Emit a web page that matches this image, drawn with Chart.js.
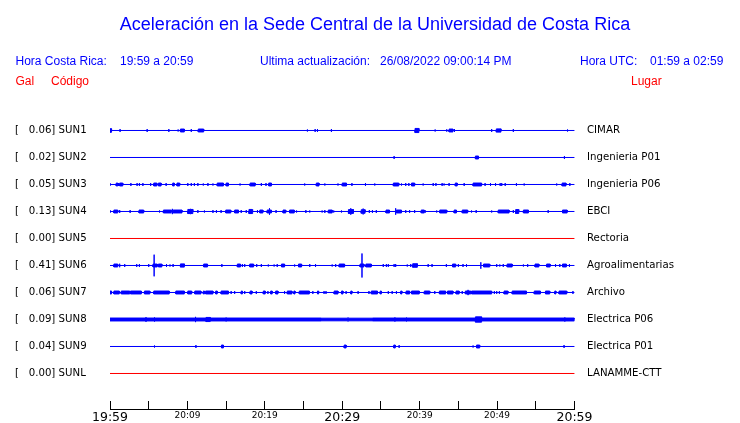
<!DOCTYPE html>
<html lang="es">
<head>
<meta charset="utf-8">
<title>Aceleración en la Sede Central de la Universidad de Costa Rica</title>
<script src="https://cdn.jsdelivr.net/npm/chart.js@4.4.1/dist/chart.umd.min.js"></script>
<style>
  body { margin: 0; background: #fff; }
  #wrap { position: relative; width: 740px; height: 423px; font-family: "Liberation Sans", Arial, sans-serif; }
  #wrap canvas { position: absolute; left: 0; top: 0; }
  .txt { position: absolute; font-size: 12px; line-height: 12px; white-space: pre; color: #0000ff; }
  .red { color: #ff0000; }
  #title { font-size: 18px; line-height: 18px; left: 375px; top: 14.5px; transform: translateX(-50%); }
</style>
</head>
<body>
<div id="wrap">
  <canvas id="chart" width="740" height="423"></canvas>
  <div class="txt" id="title">Aceleración en la Sede Central de la Universidad de Costa Rica</div>
  <div class="txt" style="left:15.5px; top:55.3px">Hora Costa Rica:</div>
  <div class="txt" style="left:120px; top:55.3px">19:59 a 20:59</div>
  <div class="txt" style="left:260px; top:55.3px">Ultima actualización:</div>
  <div class="txt" style="left:380px; top:55.3px">26/08/2022 09:00:14 PM</div>
  <div class="txt" style="left:580px; top:55.3px">Hora UTC:</div>
  <div class="txt" style="left:650px; top:55.3px">01:59 a 02:59</div>
  <div class="txt red" style="left:15.5px; top:75.3px">Gal</div>
  <div class="txt red" style="left:51px; top:75.3px">Código</div>
  <div class="txt red" style="left:631px; top:75.3px">Lugar</div>
</div>
<script>
// estaciones, lugar y pico registrado (Gal)
const CODES = ['SUN1', 'SUN2', 'SUN3', 'SUN4', 'SUN5', 'SUN6', 'SUN7', 'SUN8', 'SUN9', 'SUNL'];
const PLACES = ['CIMAR', 'Ingenieria P01', 'Ingenieria P06', 'EBCI', 'Rectoria',
  'Agroalimentarias', 'Archivo', 'Electrica P06', 'Electrica P01', 'LANAMME-CTT'];
const PEAK_GAL = [0.06, 0.02, 0.05, 0.13, 0.00, 0.41, 0.06, 0.09, 0.04, 0.00];

// eje de tiempo: minutos desde las 19:59, una marca cada 5 minutos
const TICK_LABELS = ['19:59', '', '20:09', '', '20:19', '', '20:29', '', '20:39', '', '20:49', '', '20:59'];

// eventos de cada traza: [minuto, amplitud Gal, duración en minutos (0 = pico)]
const sun1 = [[0, .06, .2], [1.3, .05], [4.8, .05], [7.6, .05], [8.8, .035], [9.1, .05, .5], [10.5, .05],
  [11.4, .05, .7], [25.5, .035], [26.5, .05], [26.8, .05], [28.6, .05], [39.4, .07, .5], [42.0, .035],
  [43.5, .04], [43.8, .05, .5], [44.5, .05], [49.3, .05], [49.9, .055, .6], [52.1, .05], [59.1, .035]];
const sun2 = [[36.7, .05], [47.2, .05, .4], [58.7, .05]];
const sun3 = [[0, .05], [0.8, .05, .2], [1.1, .05], [1.25, .05, .4], [2.7, .05], [3.5, .05], [3.8, .05],
  [4.25, .05], [5.25, .05], [5.65, .05, .4], [6.25, .05, .35], [7.25, .05], [8.1, .05, .2], [8.65, .05, .35],
  [10.05, .05], [10.5, .05], [10.9, .05], [11.35, .05], [12.05, .035], [12.65, .05], [13.3, .035],
  [13.85, .05, .8], [15.0, .05, .3], [16.8, .035], [18.1, .05, .65], [19.55, .05], [20.15, .05],
  [20.5, .05, .35], [25.15, .035], [26.65, .05, .35], [27.75, .035], [29.45, .035], [30.0, .05, .55],
  [31.25, .05], [33.0, .05], [34.2, .035], [36.6, .05, .7], [37.65, .035], [38.2, .05], [38.6, .05],
  [38.95, .05, .4], [40.45, .035], [41.75, .05], [42.1, .05], [42.9, .05], [43.15, .035], [43.8, .05],
  [44.6, .05, .25], [45.75, .05], [46.9, .05, 1.1], [48.45, .05], [49.15, .05], [49.8, .05], [50.4, .05],
  [50.6, .05], [51.05, .05], [52.5, .05], [53.5, .035], [57.7, .035], [58.4, .05, .5], [59.4, .05]];
const sun4 = [[0, .05], [0.5, .05, .5], [1.25, .05], [2.6, .05], [3.75, .05, .6], [6.4, .035], [6.85, .05],
  [6.95, .05, .95], [8.05, .09], [8.15, .05, 1.15], [10.05, .07, .65], [10.4, .09], [11.35, .05],
  [12.2, .035], [13.3, .05], [13.75, .05], [14.35, .05], [14.95, .05, .65], [16.1, .05, .5], [16.95, .05],
  [17.6, .05], [17.95, .07, .4], [18.45, .05], [19.05, .05], [19.35, .05, .4], [20.3, .05, .55], [20.6, .11],
  [21.45, .05], [22.35, .05, .35], [23.2, .05, .6], [24.1, .035], [25.3, .05], [25.8, .035], [27.4, .035],
  [27.75, .05], [28.2, .05, .5], [28.9, .035], [29.9, .035], [30.8, .065, .65], [31.1, .11],
  [32.45, .06, .5], [32.7, .1], [33.5, .05], [33.9, .05], [34.4, .05], [35.65, .05, .45], [36.9, .11],
  [37.0, .05, .65], [38.2, .05], [38.7, .05], [39.35, .05], [40.2, .05, .4], [40.75, .035], [42.2, .035],
  [42.6, .05, .9], [44.45, .05, .3], [45.5, .05, .7], [46.7, .035], [47.3, .05], [49.3, .035],
  [50.15, .05, 1.4], [52.1, .05], [52.4, .065, .4], [52.55, .08], [53.4, .05, .65], [56.6, .05],
  [58.45, .05, .6]];
const sun5 = [];
const sun6 = [[0.5, .05, .5], [1.25, .06], [1.9, .05], [3.45, .05], [3.8, .05], [5.0, .05], [5.55, .05, .55],
  [5.7, .37], [6.25, .05, .45], [7.3, .05], [7.75, .035], [8.15, .05], [9.1, .055, .5], [12.1, .05, .5],
  [14.45, .05], [16.45, .05, .4], [17.1, .05], [17.4, .05], [18.05, .05, .5], [18.95, .05], [19.55, .05],
  [20.45, .035], [21.2, .035], [21.6, .05], [22.15, .05, .4], [23.85, .035], [24.35, .05, .4], [25.8, .05],
  [26.55, .05], [28.7, .035], [29.15, .05], [29.6, .05, .7], [32.3, .05, .5], [32.55, .41], [33.05, .05, .7],
  [35.3, .05], [35.7, .05], [35.95, .05], [36.7, .05], [36.9, .05], [38.4, .035], [38.85, .05],
  [39.1, .06, .6], [41.1, .05], [41.6, .05], [43.45, .05], [44.25, .05, .4], [45.0, .05], [45.6, .05],
  [46.05, .05], [47.9, .11], [48.25, .05, .8], [49.95, .05], [50.35, .035], [50.8, .05], [51.3, .05, .65],
  [53.4, .035], [53.95, .05], [54.9, .05, .5], [56.4, .05, .45], [57.55, .05], [58.1, .05], [58.45, .05, .5],
  [59.35, .05]];
const sun7 = [[0, .05, .2], [0.5, .05, .7], [1.45, .05, 1.1], [2.65, .05, 1.4], [4.45, .05, .7],
  [5.65, .05, 2.0], [8.5, .05, 1.1], [10.05, .05, .5], [10.95, .05, .8], [12.05, .05, .15], [12.35, .05, .95],
  [13.65, .05, .2], [14.35, .05, .95], [15.65, .05], [16.1, .05], [16.95, .05, .15], [17.4, .05],
  [18.1, .05, .25], [18.9, .05], [19.8, .05, .25], [20.4, .05], [20.75, .05, .2], [21.4, .05, .3],
  [22.55, .05], [22.9, .05, .6], [23.75, .05, .15], [24.45, .05, 1.3], [26.2, .05], [26.8, .05, .15],
  [27.65, .05], [27.9, .05], [28.95, .05, .5], [29.9, .05, .2], [30.5, .05], [31.1, .05, .15], [32.05, .05],
  [33.45, .05], [33.75, .05, .8], [34.9, .05, .15], [35.95, .05], [36.45, .05], [37.0, .05],
  [37.55, .05, .15], [38.25, .05, .45], [38.95, .05, 1.0], [40.6, .05, .7], [41.95, .05], [42.55, .05, .8],
  [43.6, .05, .7], [44.7, .05, .4], [45.5, .05], [45.9, .05, .7], [46.25, .09], [46.7, .05, 2.6],
  [49.65, .05], [49.95, .05], [50.3, .05], [50.9, .05, .5], [51.95, .05, 1.85], [54.8, .05, .8],
  [56.25, .05, .55], [57.45, .05, .15], [58.0, .05, 1.0], [59.8, .05]];
const sun8 = [[0, .05, 27.3], [4.65, .08], [5.75, .07], [11.05, .09], [12.4, .07, .55], [15.0, .065],
  [27.3, .045, 6.6], [30.75, .065], [33.9, .05, 26.1], [36.8, .07], [38.3, .065], [47.2, .09, .8],
  [58.75, .07]];
const sun9 = [[5.75, .035], [11.1, .05], [14.4, .05, .25], [30.25, .05, .25], [36.65, .05, .2], [37.35, .05],
  [46.9, .035], [47.35, .05, .4], [58.65, .05]];
const sunl = [];
const TRACES = [sun1, sun2, sun3, sun4, sun5, sun6, sun7, sun8, sun9, sunl];

const GAIN = 1.085; // filas por Gal
const BLUE = '#0000ff';
const RED = '#ff0000';
const round2 = v => Math.round(v * 100) / 100;

// envolvente de amplitud: lista de [minuto, amplitud] recorriendo cada corte
function envelope(events) {
  const bursts = events.filter(e => e[2] > 0).map(e => [e[0], round2(e[0] + e[2]), e[1]]);
  const spikes = events.filter(e => !(e[2] > 0));
  const cuts = [...new Set([0, 60, ...events.map(e => e[0]), ...bursts.map(b => b[1])])].sort((a, b) => a - b);
  const level = (x0, x1) => Math.max(0, ...bursts.filter(b => b[0] <= x0 && b[1] >= x1).map(b => b[2]));
  const pts = [];
  cuts.forEach((x, i) => {
    const left = i > 0 ? level(cuts[i - 1], x) : 0;
    const right = i < cuts.length - 1 ? level(x, cuts[i + 1]) : 0;
    const spike = Math.max(0, ...spikes.filter(s => s[0] === x).map(s => s[1]));
    pts.push([x, left]);
    if (spike > Math.max(left, right)) pts.push([x, spike]);
    pts.push([x, right]);
  });
  return pts;
}

const datasets = [];
TRACES.forEach((events, row) => {
  const color = PEAK_GAL[row] > 0 ? BLUE : RED;
  const env = envelope(events);
  const common = { borderColor: color, backgroundColor: color, borderWidth: 1, pointRadius: 0 };
  datasets.push({ ...common, data: env.map(([x, a]) => ({ x, y: row - GAIN * a })), fill: false });
  datasets.push({ ...common, data: env.map(([x, a]) => ({ x, y: row + GAIN * a })), fill: '-1' });
});

const rowTicks = scale => { scale.ticks = CODES.map((c, i) => ({ value: i })); };
// las etiquetas de fila no deben empujar el área del gráfico
const fitRows = width => scale => { scale.width = width; scale.paddingTop = 0; scale.paddingBottom = 0; };
const labelFont = { family: 'DejaVu Sans', size: 10.2 };

new Chart(document.getElementById('chart'), {
  type: 'line',
  data: { datasets },
  options: {
    responsive: false,
    animation: false,
    layout: { padding: { left: 15, right: 15, top: 117, bottom: 0 } },
    plugins: { legend: { display: false }, tooltip: { enabled: false } },
    elements: { line: { tension: 0 } },
    scales: {
      x: {
        type: 'linear', min: 0, max: 60,
        afterFit: s => { s.height = 14; },
        border: { color: '#000' },
        grid: { drawOnChartArea: false, tickLength: -8, color: '#000' },
        ticks: {
          stepSize: 5, autoSkip: false, maxRotation: 0, padding: 9, color: '#000',
          callback: (v, i) => TICK_LABELS[i],
          font: c => c.index % 6 === 0 ? { family: 'DejaVu Sans', size: 12.5 } : { family: 'DejaVu Sans', size: 9 }
        }
      },
      y: {
        reverse: true, min: -0.5, max: 10.315,
        afterBuildTicks: rowTicks,
        afterFit: fitRows(95),
        border: { display: false },
        grid: { display: false, drawTicks: false },
        ticks: {
          crossAlign: 'far', color: '#000', font: labelFont,
          callback: v => '[' + PEAK_GAL[v].toFixed(2).padStart(7) + '] ' + CODES[v]
        }
      },
      y2: {
        position: 'right', reverse: true, min: -0.5, max: 10.315,
        afterBuildTicks: rowTicks,
        afterFit: fitRows(150.5),
        border: { display: false },
        grid: { display: false, drawTicks: false },
        ticks: { padding: 12.5, color: '#000', font: labelFont, callback: v => PLACES[v] }
      }
    }
  }
});
</script>
</body>
</html>
